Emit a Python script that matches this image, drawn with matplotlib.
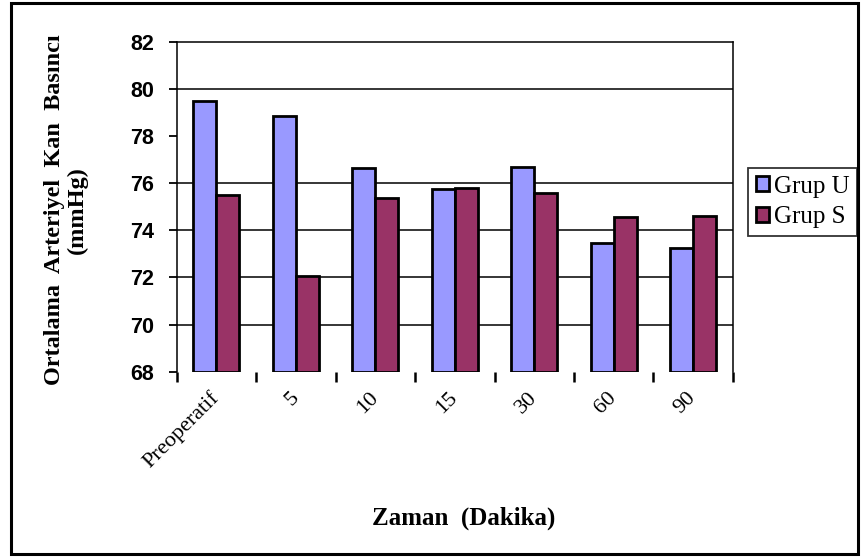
import numpy as np
import matplotlib
matplotlib.use('Agg')
import matplotlib.pyplot as plt
from matplotlib.patches import Rectangle

kategoriler = ['Preoperatif', '5', '10', '15', '30', '60', '90']
grup_u = [79.5, 78.85, 76.64, 75.75, 76.68, 73.47, 73.25]
grup_s = [75.5, 72.06, 75.37, 75.8, 75.58, 74.56, 74.62]
y_ticks = [68, 70, 72, 74, 76, 78, 80, 82]
grid_y = [70, 72, 74, 76, 80]

serif = ['Liberation Serif', 'DejaVu Serif']
sans = ['Liberation Sans', 'DejaVu Sans']

fig = plt.figure(figsize=(8.61, 5.57), dpi=100)
ax = fig.add_axes([0.2052, 0.3327, 0.6461, 0.5925])

x = np.arange(len(kategoriler))
w = 0.29
ax.hlines(grid_y, -0.5, len(kategoriler) - 0.5, color='black', linewidth=1.1, zorder=1)
ax.bar(x - w / 2, np.array(grup_u) - 68, w, bottom=68, color='#9999FF',
       edgecolor='black', linewidth=2, label='Grup U', zorder=3)
ax.bar(x + w / 2, np.array(grup_s) - 68, w, bottom=68, color='#993366',
       edgecolor='black', linewidth=2, label='Grup S', zorder=3)

ax.set_xlim(-0.5, len(kategoriler) - 0.5)
ax.set_ylim(68, 82)
ax.set_yticks(y_ticks)
ax.set_yticklabels([str(t) for t in y_ticks], fontfamily=sans, fontweight='bold', fontsize=15.5)
ax.tick_params(axis='y', direction='out', length=6, width=1.3, pad=10)

ax.set_xticks(x)
ax.set_xticklabels(kategoriler, fontfamily=serif, fontsize=16, rotation=45,
                   ha='right', va='center', rotation_mode='anchor')
ax.tick_params(axis='x', which='major', length=0, pad=17)
ax.set_xticks(np.arange(-0.5, len(kategoriler)), minor=True)
ax.tick_params(axis='x', which='minor', direction='out', length=7, width=1.8)

for s in ['left', 'top', 'right']:
    ax.spines[s].set_color('black')
    ax.spines[s].set_linewidth(1.1)
ax.spines['bottom'].set_visible(False)

ax.set_ylabel('Ortalama  Arteriyel  Kan  Basıncı\n(mmHg)', fontfamily=serif,
              fontweight='bold', fontsize=17.5, linespacing=1.1)
ax.yaxis.set_label_coords(-0.1594, 0.49)
ax.set_xlabel('Zaman  (Dakika)', fontfamily=serif, fontweight='bold', fontsize=18)
ax.xaxis.set_label_coords(0.5165, -0.41)

leg = ax.legend(loc='upper left', bbox_to_anchor=(748 / 861, 1 - 168 / 557),
                bbox_transform=fig.transFigure, frameon=True, fancybox=False,
                prop={'family': serif, 'size': 18}, handlelength=0.55, handleheight=0.55,
                handletextpad=0.2, borderpad=0.3, labelspacing=0.35, borderaxespad=0)
leg.get_frame().set_edgecolor('black')
leg.get_frame().set_linewidth(1.3)

fig.patches.append(Rectangle((11 / 861, 3 / 557), 847 / 861, 551 / 557, transform=fig.transFigure,
                             fill=False, edgecolor='black', linewidth=2.2))

fig.savefig('out.png', dpi=100)
